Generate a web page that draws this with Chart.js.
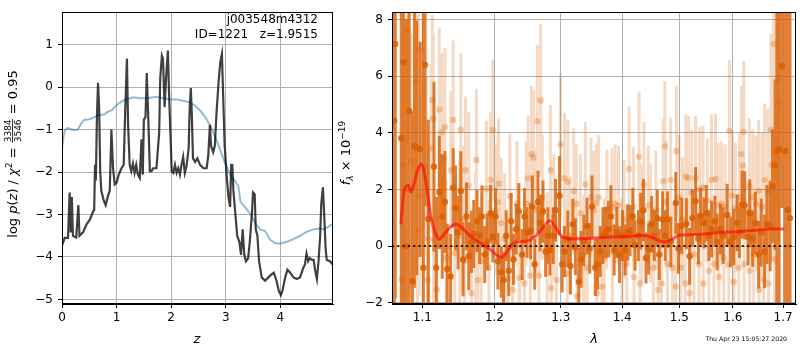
<!DOCTYPE html>
<html>
<head>
<meta charset="utf-8">
<script src="https://cdn.jsdelivr.net/npm/chart.js@4.4.1/dist/chart.umd.min.js"></script>
<style>
  body { margin: 0; background: #fff; }
  #wrap { position: relative; width: 800px; height: 350px; }
  canvas { position: absolute; top: 0; }
</style>
</head>
<body>
<div id="wrap">
  <canvas id="pz" width="340" height="350" style="left:0"></canvas>
  <canvas id="spec" width="470" height="350" style="left:330px"></canvas>
</div>
<script>
// ---- p(z) panel ----
const pzZ = [0, 0.05, 0.11, 0.14, 0.16, 0.18, 0.20, 0.26, 0.30, 0.32, 0.385, 0.45, 0.51, 0.57, 0.59, 0.605, 0.62, 0.64, 0.66, 0.68,
  0.70, 0.72, 0.765, 0.80, 0.845, 0.875, 0.905, 0.935, 0.966, 1.00, 1.04, 1.09, 1.13, 1.16, 1.19, 1.21, 1.24, 1.27, 1.30, 1.33,
  1.36, 1.39, 1.425, 1.456, 1.48, 1.50, 1.53, 1.553, 1.58, 1.61, 1.64, 1.67, 1.73, 1.78, 1.80, 1.83, 1.85, 1.88, 1.91, 1.94,
  1.96, 1.99, 2.01, 2.04, 2.07, 2.10, 2.13, 2.16, 2.19, 2.22, 2.25, 2.28, 2.32, 2.34, 2.36, 2.38, 2.40, 2.44, 2.48, 2.53,
  2.59, 2.65, 2.68, 2.71, 2.73, 2.77, 2.80, 2.83, 2.87, 2.90, 2.93, 2.95, 2.98, 3.02, 3.05, 3.08, 3.10, 3.12, 3.14, 3.17,
  3.21, 3.25, 3.28, 3.31, 3.34, 3.37, 3.41, 3.44, 3.48, 3.50, 3.53, 3.55, 3.58, 3.61, 3.66, 3.72, 3.78, 3.84, 3.88, 3.93,
  3.97, 4.01, 4.04, 4.09, 4.13, 4.18, 4.24, 4.30, 4.36, 4.42, 4.45, 4.48, 4.51, 4.54, 4.58, 4.61, 4.64, 4.67, 4.70, 4.73,
  4.75, 4.78, 4.80, 4.83, 4.85, 4.91, 4.96];
const pzLog = [-3.73, -3.55, -3.55, -2.48, -3.42, -2.59, -3.50, -3.54, -2.78, -3.50, -3.42, -3.23, -3.12, -2.93, -2.89, -1.83, -2.20, -0.70, 0.10, -0.47,
  -1.98, -2.44, -2.67, -2.78, -2.55, -2.44, -1.00, -1.91, -2.29, -2.25, -2.06, -1.91, -1.83, -0.47, 0.67, -0.85, -1.83, -1.98, -1.80, -2.02,
  -1.83, -2.06, -2.14, -1.23, -2.06, -0.77, -0.70, 0.33, -0.70, -1.98, -1.98, -1.91, -1.91, -1.08, 0.21, 0.74, 0.67, -0.47, 0.29, 0.86,
  -0.09, -1.23, -1.98, -2.02, -1.83, -2.02, -1.91, -2.06, -1.83, -1.64, -2.02, -1.87, -1.45, -0.47, -0.02, -0.70, -1.68, -1.76, -1.68, -1.83,
  -1.91, -1.91, -1.61, -0.89, -1.38, -1.53, -1.38, -0.62, 0.14, 0.59, 0.78, -0.09, -1.38, -2.14, -2.59, -2.82, -1.83, -1.83, -2.44, -2.89,
  -3.50, -3.65, -3.95, -3.35, -3.95, -4.10, -4.03, -3.65, -2.97, -2.48, -2.52, -3.35, -3.50, -4.10, -4.48, -4.56, -4.48, -4.41, -4.37, -4.56,
  -4.79, -4.90, -4.79, -4.48, -4.30, -4.37, -4.48, -4.52, -4.48, -4.26, -4.18, -3.92, -4.10, -4.03, -4.07, -4.07, -4.33, -4.52, -4.10, -3.50,
  -2.74, -2.36, -2.90, -3.80, -4.07, -4.10, -4.18];

const smoothZ = [0, 0.03, 0.06, 0.11, 0.17, 0.23, 0.29, 0.355, 0.415, 0.48, 0.54, 0.60, 0.69, 0.78, 0.84, 0.905, 0.966, 1.03, 1.12, 1.21,
  1.30, 1.425, 1.55, 1.67, 1.73, 1.85, 1.98, 2.10, 2.22, 2.34, 2.43, 2.53, 2.62, 2.71, 2.80, 2.89, 2.98, 3.08, 3.17, 3.23,
  3.27, 3.35, 3.44, 3.54, 3.63, 3.72, 3.81, 3.90, 3.99, 4.12, 4.24, 4.36, 4.48, 4.61, 4.70, 4.79, 4.88, 4.96];
const smoothLog = [-1.45, -1.15, -1.00, -0.96, -1.00, -1.01, -1.00, -0.85, -0.77, -0.76, -0.74, -0.70, -0.66, -0.64, -0.58, -0.55, -0.47, -0.39, -0.32, -0.28,
  -0.24, -0.26, -0.26, -0.24, -0.23, -0.26, -0.29, -0.29, -0.32, -0.36, -0.43, -0.55, -0.70, -0.89, -1.15, -1.45, -1.76, -2.06, -2.21, -2.33,
  -2.70, -2.82, -2.97, -3.20, -3.35, -3.39, -3.59, -3.67, -3.69, -3.64, -3.58, -3.50, -3.41, -3.35, -3.33, -3.35, -3.29, -3.22];

const zTicks = [0, 1, 2, 3, 4];
const logPTicks = [-5, -4, -3, -2, -1, 0, 1];

// ---- spectrum panel ----
const darkWave = [1.0633, 1.0646, 1.0723, 1.0752, 1.0787, 1.0826, 1.0869, 1.0895, 1.0926, 1.0970, 1.1013, 1.1036, 1.1079, 1.1155, 1.1186, 1.1227, 1.1267, 1.1303, 1.1335, 1.1381,
  1.1417, 1.1449, 1.1485, 1.1522, 1.1554, 1.1601, 1.1633, 1.1671, 1.1703, 1.1750, 1.1788, 1.1820, 1.1859, 1.1897, 1.1944, 1.1977, 1.2016, 1.2050, 1.2099, 1.2132,
  1.2171, 1.2209, 1.2244, 1.2278, 1.2318, 1.2357, 1.2407, 1.2442, 1.2482,
  1.2536, 1.2562, 1.2597, 1.2648, 1.2678, 1.2724, 1.2764, 1.2801, 1.2831, 1.2882, 1.2918, 1.2980, 1.3022, 1.3058, 1.3111, 1.3152, 1.3190, 1.3231, 1.3286, 1.3322,
  1.3366, 1.3419, 1.3462, 1.3499, 1.3553, 1.3592, 1.3634, 1.3678, 1.3728, 1.3772, 1.3810, 1.3865, 1.3910, 1.3955, 1.4006, 1.4049, 1.4095, 1.4134, 1.4180, 1.4219,
  1.4277, 1.4316, 1.4363, 1.4408, 1.4454, 1.4507, 1.4554, 1.4606, 1.4641, 1.4699,
  1.4747, 1.4787, 1.4846, 1.4935, 1.4984, 1.5043, 1.5128, 1.5188, 1.5238, 1.5298, 1.5348, 1.5390, 1.5453, 1.5496, 1.5546, 1.5594, 1.5658, 1.5701, 1.5764, 1.5815,
  1.5891, 1.5954, 1.6019, 1.6083, 1.6127, 1.6180, 1.6232, 1.6296, 1.6330, 1.6388, 1.6440, 1.6507, 1.6558, 1.6626, 1.6672, 1.6738, 1.6786, 1.6839, 1.6873, 1.6920,
  1.6975, 1.7042, 1.7097, 1.7144];
const darkFlux = [4.43, 7.14, 3.81, 6.49, 0.00, 4.77, -1.24, 3.53, 3.47, 3.42, -0.76, 6.40, 0.96, 2.80, -0.76, 1.90, 1.05, 1.56, -0.81, -1.07,
  2.06, 1.35, 0.48, 1.95, -0.47, 1.05, -0.36, 0.15, 0.43, 0.88, 0.37, 1.05, -0.30, 0.15, 1.16, 0.32, 1.05, -0.53, -0.92, -1.20,
  0.37, -0.87, 0.88, -0.47, 0.60, 1.22, -0.30, 1.05, 0.48,
  0.54, 1.39, -0.64, 1.56, 0.82, 1.22, -0.19, 0.37, -0.14, 0.37, 1.27, 1.78, -0.64, -0.19, 0.26, -0.70, 0.77, -0.02, -1.26, -0.47,
  0.20, 0.71, -0.08, 1.39, -0.76, -0.64, -0.19, 0.37, 0.48, 0.60, 1.05, -0.14, 0.48, -0.30, 0.37, -0.14, 0.48, 0.54, 1.05, 0.03,
  0.37, 0.88, 1.27, -0.42, -0.10, 0.77, 0.37, 0.99, -0.30, 0.94,
  0.37, 0.94, 0.15, 1.52, -0.08, 0.71, 0.79, -0.36, 0.99, 1.59, 0.26, 1.05, 0.82, 1.16, 0.37, 0.60, 0.88, 0.15, 0.60, 0.37,
  1.10, 0.15, 0.32, 0.82, 0.48, 1.47, 1.44, 0.32, 1.16, 0.26, 0.82, -0.30, 0.48, -0.19, 0.77, 0.71, 2.12, 2.85, 3.36, 3.42,
  6.35, 3.36, 1.27, 0.99];
const darkErr = [9, 9, 9, 9, 8, 9, 6, 5, 4.5, 3.8, 9, 5, 3.5, 3.0, 2.5, 2.0, 2.2, 1.8, 1.6, 1.5,
  1.4, 1.5, 1.3, 1.4, 1.3, 1.2, 1.2, 1.1, 1.2, 1.1, 1.0, 1.1, 1.0, 1.0, 1.0, 0.9, 1.0, 1.0, 0.9, 1.0,
  0.9, 0.9, 1.0, 0.9, 0.9, 1.0, 0.9, 1.0, 0.9,
  1.0, 1.1, 0.9, 1.1, 1.0, 1.1, 0.9, 1.0, 0.9, 1.0, 1.1, 1.4, 1.0, 0.9, 1.0, 1.0, 0.9, 1.0, 1.2, 1.0,
  0.9, 1.0, 0.9, 1.1, 1.0, 0.9, 0.9, 1.0, 0.9, 1.0, 1.1, 0.9, 0.9, 1.0, 0.9, 0.9, 1.0, 0.9, 1.0, 0.9,
  0.9, 1.0, 1.1, 0.9, 0.9, 1.0, 0.9, 1.0, 0.9, 1.0,
  0.9, 1.0, 0.9, 1.1, 0.9, 1.0, 0.9, 1.0, 1.0, 1.2, 0.9, 1.0, 0.9, 1.0, 0.9, 1.0, 0.9, 1.0, 0.9, 1.0,
  1.1, 0.9, 1.0, 1.0, 0.9, 1.2, 1.2, 1.0, 1.2, 1.0, 1.1, 1.2, 1.2, 1.3, 1.4, 1.6, 2.0, 3.0, 6, 9,
  5, 9, 9, 9];

const lightWave = [1.0730, 1.0752, 1.0806, 1.0848, 1.0913, 1.0934, 1.0952, 1.0960, 1.1049, 1.1066, 1.1079, 1.1119, 1.1132, 1.1145, 1.1150, 1.1192, 1.1227, 1.1259, 1.1281, 1.1303,
  1.1317, 1.1385, 1.1417, 1.1440, 1.1508, 1.1522, 1.1545, 1.1576, 1.1587, 1.1633, 1.1671, 1.1731, 1.1741, 1.1763, 1.1811, 1.1883, 1.1920, 1.1944, 1.1977, 1.2026,
  1.2050, 1.2060, 1.2099, 1.2148, 1.2194, 1.2226, 1.2266, 1.2330, 1.2362, 1.2372, 1.2442, 1.2467, 1.2497,
  1.2530, 1.2547, 1.2577, 1.2612, 1.2637, 1.2663, 1.2688, 1.2713, 1.2790, 1.2841, 1.2851, 1.2893, 1.2933, 1.2996, 1.3058, 1.3100, 1.3111, 1.3143, 1.3206, 1.3247,
  1.3258, 1.3311, 1.3366, 1.3391, 1.3419, 1.3483, 1.3527, 1.3569, 1.3580, 1.3608, 1.3662, 1.3700, 1.3744, 1.3827, 1.3835, 1.3882, 1.3938, 1.3995, 1.4032, 1.4078,
  1.4117, 1.4192, 1.4200, 1.4287, 1.4304, 1.4334, 1.4373, 1.4449, 1.4489, 1.4536, 1.4581, 1.4623, 1.4681, 1.4711, 1.4740,
  1.4757, 1.4787, 1.4846, 1.4876, 1.4935, 1.4948, 1.4996, 1.5025, 1.5056, 1.5105, 1.5116, 1.5165, 1.5188, 1.5225, 1.5269, 1.5298, 1.5360, 1.5372, 1.5434, 1.5440,
  1.5514, 1.5546, 1.5594, 1.5639, 1.5669, 1.5720, 1.5734, 1.5781, 1.5828, 1.5847, 1.5923, 1.5935, 1.5987, 1.6019, 1.6050, 1.6116, 1.6127, 1.6166, 1.6193, 1.6213,
  1.6220, 1.6322, 1.6330, 1.6388, 1.6408, 1.6453, 1.6507, 1.6515, 1.6572, 1.6606, 1.6626, 1.6692, 1.6706, 1.6755, 1.6772, 1.6807, 1.6827, 1.6873, 1.6907];
const lightFlux = [-1.18, 2.87, 7.59, 3.00, 5.80, 0.56, 6.93, 1.76, 2.82, -1.20, 0.26, 3.45, 5.16, 4.50, 0.20, -1.54, 4.82, 4.02, 3.08, 4.20,
  -0.42, 2.68, 4.46, -0.25, 0.37, 4.11, 0.94, -0.53, 2.68, 2.14, -1.66, 0.15, 3.04, -1.20, -0.53, 2.03, -0.76, 2.34, 4.09, 1.27,
  1.56, 2.20, 0.82, 0.26, -1.15, 1.76, -1.54, 1.50, 0.03, -1.12, -1.32, 1.50, 2.40,
  -1.04, 3.25, 3.13, 1.27, 4.41, -1.04, 5.14, 1.72, -0.30, 2.68, -1.49, 1.05, -1.20, 3.59, 2.40, -0.98, 2.27, 0.37, 1.95, 1.50,
  -1.77, 1.16, -0.30, 2.18, -0.76, 1.72, 1.27, 1.52, -1.66, 1.72, -1.43, -0.42, 1.30, 1.36, -0.19, 1.50, 1.44, -0.42, 0.94, -0.64,
  2.72, 1.39, -1.09, 3.16, -1.32, 0.82, 2.18, 1.44, 0.82, -0.76, 1.27, -1.54, -1.32, 2.29, 3.53,
  1.56, -0.64, 2.34, -0.76, -1.43, 3.36, 1.72, -0.76, 0.94, -1.32, 2.46, 2.40, -1.66, 1.89, -0.30, 2.40, -0.64, 2.00, 2.06, -1.32,
  1.61, -0.87, 2.34, -0.64, 2.37, 1.44, -1.09, 1.50, -0.42, 1.39, -0.64, 4.07, 1.78, -1.26, 1.36, -0.76, 1.72, 3.25, 2.85, 4.04,
  -0.64, 2.12, -0.87, 1.72, -0.30, 1.50, 1.95, -1.54, 1.39, -1.20, 2.34, 1.95, -1.32, 4.11, 2.87, 7.14, -0.47, 5.84, 5.11];
const lightErr = [5, 5, 4, 4.5, 3.5, 3.5, 3.5, 3.5, 3.2, 3.2, 3.2, 3.0, 3.0, 3.0, 3.0, 2.9, 2.9, 2.8, 2.8, 2.8,
  2.8, 2.8, 2.8, 2.7, 2.7, 2.7, 2.6, 2.6, 2.6, 2.6, 2.5, 2.5, 2.5, 2.4, 2.4, 2.4, 2.4, 2.4, 2.5, 2.3,
  2.3, 2.3, 2.3, 2.3, 2.2, 2.2, 2.2, 2.2, 2.2, 2.2, 2.2, 2.2, 2.2,
  2.2, 2.4, 2.4, 2.2, 2.7, 2.2, 2.7, 2.2, 2.2, 2.3, 2.2, 2.2, 2.2, 2.5, 2.3, 2.1, 2.2, 2.1, 2.2, 2.1,
  2.1, 2.1, 2.1, 2.2, 2.1, 2.1, 2.1, 2.1, 2.1, 2.2, 2.1, 2.1, 2.1, 2.1, 2.1, 2.1, 2.1, 2.1, 2.1, 2.1,
  2.2, 2.1, 2.1, 2.3, 2.1, 2.1, 2.2, 2.1, 2.1, 2.1, 2.1, 2.1, 2.1, 2.2, 2.3,
  2.2, 2.2, 2.2, 2.2, 2.2, 2.3, 2.2, 2.2, 2.2, 2.2, 2.2, 2.2, 2.2, 2.2, 2.2, 2.2, 2.2, 2.2, 2.2, 2.2,
  2.2, 2.2, 2.3, 2.2, 2.3, 2.2, 2.2, 2.2, 2.2, 2.2, 2.3, 2.5, 2.3, 2.3, 2.3, 2.3, 2.3, 2.4, 2.4, 2.5,
  2.3, 2.4, 2.4, 2.4, 2.4, 2.4, 2.5, 2.5, 2.6, 2.6, 2.7, 2.9, 2.9, 3.4, 3.4, 4.4, 3.9, 4.4, 5.0];

const modelWave = [1.0719, 1.0752, 1.0774, 1.0817, 1.0848, 1.0891, 1.0934, 1.0979, 1.1013, 1.1058, 1.1111, 1.1169, 1.1227, 1.1281, 1.1372, 1.1463, 1.1554, 1.1647, 1.1741, 1.1835,
  1.1930, 1.2026, 1.2099, 1.2171, 1.2244, 1.2318, 1.2416, 1.2516, 1.2592, 1.2668, 1.2744, 1.2821, 1.2871, 1.2949, 1.3027, 1.3131, 1.3290, 1.3504, 1.3723, 1.3944,
  1.4168, 1.4339, 1.4484, 1.4629, 1.4747, 1.4864, 1.4984, 1.5225, 1.5471, 1.5781, 1.6100, 1.6425, 1.6755, 1.7026];
const modelFlux = [0.77, 1.85, 2.08, 2.14, 1.91, 2.19, 2.65, 2.90, 2.76, 2.08, 1.06, 0.49, 0.24, 0.38, 0.66, 0.77, 0.60, 0.38, 0.20, 0.06,
  -0.10, -0.31, -0.40, -0.25, 0.03, 0.15, 0.17, 0.20, 0.32, 0.49, 0.72, 0.89, 0.83, 0.55, 0.32, 0.26, 0.26, 0.28, 0.31, 0.33,
  0.35, 0.38, 0.32, 0.20, 0.15, 0.24, 0.38, 0.40, 0.43, 0.49, 0.51, 0.56, 0.60, 0.60];

const waveTicks = [1.1, 1.2, 1.3, 1.4, 1.5, 1.6, 1.7];
const fluxTicks = [-2, 0, 2, 4, 6, 8];

const FONT = "'DejaVu Sans', sans-serif";
Chart.defaults.font.family = FONT;
Chart.defaults.font.size = 12;
Chart.defaults.color = '#000';

const minus = v => String(v).replace('-', '\u2212');

// full box around the plot area (Chart.js only draws the axis side)
const frame = {
  id: 'frame',
  afterDraw(chart) {
    const { ctx, chartArea: a } = chart;
    ctx.save();
    ctx.strokeStyle = '#000';
    ctx.lineWidth = 1;
    ctx.strokeRect(Math.round(a.left) + 0.5, Math.round(a.top) + 0.5,
      Math.round(a.right - a.left) - 1, Math.round(a.bottom - a.top) - 1);
    ctx.restore();
  }
};

// draw a label built from pieces (normal / italic / sub / superscript / fraction)
function pieceFont(p) {
  return `${p.italic ? 'italic ' : ''}${p.size || 13}px ${FONT}`;
}
function pieceWidth(ctx, p) {
  ctx.font = pieceFont(p);
  if (p.frac) return Math.max(ctx.measureText(p.frac[0]).width, ctx.measureText(p.frac[1]).width) + 2;
  return ctx.measureText(p.text).width;
}
function drawPieces(ctx, pieces, cx, baseline) {
  const widths = pieces.map(p => pieceWidth(ctx, p));
  let x = cx - widths.reduce((a, b) => a + b, 0) / 2;
  ctx.textBaseline = 'alphabetic';
  pieces.forEach((p, i) => {
    ctx.font = pieceFont(p);
    if (p.frac) {
      const mid = x + widths[i] / 2;
      const bar = baseline - 4.5;
      ctx.textAlign = 'center';
      ctx.fillText(p.frac[0], mid, bar - 1.5);
      ctx.fillText(p.frac[1], mid, bar + 8);
      ctx.fillRect(x + 0.5, bar - 0.5, widths[i] - 1, 0.8);
    } else {
      ctx.textAlign = 'left';
      ctx.fillText(p.text, x, baseline + (p.dy || 0));
    }
    x += widths[i];
  });
}

const pzText = {
  id: 'pzText',
  afterDraw(chart) {
    const ctx = chart.ctx;
    ctx.save();
    ctx.fillStyle = '#000';
    ctx.font = `12px ${FONT}`;
    ctx.textAlign = 'right';
    ctx.textBaseline = 'middle';
    ctx.fillText('j003548m4312', 318, 20);
    ctx.fillText('ID=1221   z=1.9515', 318, 34.5);
    ctx.textAlign = 'center';
    ctx.font = `italic 13px ${FONT}`;
    ctx.fillText('z', 197, 340);
    ctx.translate(12, 154);
    ctx.rotate(-Math.PI / 2);
    drawPieces(ctx, [
      { text: 'log ' }, { text: 'p', italic: true }, { text: '(' }, { text: 'z', italic: true }, { text: ')' },
      { text: ' / ' }, { text: '\u03c7', italic: true }, { text: '2', size: 9, dy: -5.5 },
      { text: ' = ' }, { frac: ['3384', '3546'], size: 9 }, { text: ' = 0.95' }
    ], 0, 5);
    ctx.restore();
  }
};

const specText = {
  id: 'specText',
  afterDraw(chart) {
    const ctx = chart.ctx;
    ctx.save();
    ctx.fillStyle = '#000';
    ctx.textAlign = 'center';
    ctx.textBaseline = 'middle';
    ctx.font = `italic 13px ${FONT}`;
    ctx.fillText('\u03bb', 264, 340);
    ctx.font = `6.2px ${FONT}`;
    ctx.textAlign = 'right';
    ctx.fillText('Thu Apr 23 15:05:27 2020', 457, 339.5);
    ctx.translate(15, 153);
    ctx.rotate(-Math.PI / 2);
    drawPieces(ctx, [
      { text: 'f', italic: true }, { text: '\u03bb', italic: true, size: 9, dy: 2.5 },
      { text: ' \u00d7 10' }, { text: '\u221219', size: 9, dy: -5.5 }
    ], 0, 5);
    ctx.restore();
  }
};

const gridOpts = { color: '#b0b0b0', lineWidth: 1, tickColor: '#000', tickLength: 4, tickWidth: 1 };
const borderOpts = { display: true, color: '#000', width: 1 };

new Chart(document.getElementById('pz'), {
  type: 'scatter',
  data: {
    datasets: [
      {
        data: pzZ.map((z, i) => ({ x: z, y: pzLog[i] })),
        showLine: true, borderColor: 'rgba(0,0,0,0.75)', borderWidth: 2.2,
        pointRadius: 0, order: 1
      },
      {
        data: smoothZ.map((z, i) => ({ x: z, y: smoothLog[i] })),
        showLine: true, borderColor: 'rgba(31,119,180,0.5)', borderWidth: 2,
        pointRadius: 0, order: 2
      }
    ]
  },
  options: {
    responsive: false,
    animation: false,
    events: [],
    layout: { padding: { left: 0, right: 7, top: 2, bottom: 0 } },
    plugins: { legend: { display: false }, tooltip: { enabled: false } },
    scales: {
      x: {
        type: 'linear', min: 0, max: 4.965,
        afterBuildTicks: s => { s.ticks = zTicks.map(v => ({ value: v })); },
        afterFit: s => { s.height = 46; },
        ticks: { callback: v => minus(v), padding: 3, maxRotation: 0, autoSkip: false },
        grid: gridOpts, border: borderOpts
      },
      y: {
        type: 'linear', min: -5.107, max: 1.764,
        afterBuildTicks: s => { s.ticks = logPTicks.map(v => ({ value: v })); },
        afterFit: s => { s.width = 62; },
        ticks: { callback: v => minus(v), padding: 5, autoSkip: false },
        grid: gridOpts, border: borderOpts
      }
    }
  },
  plugins: [frame, pzText]
});

// error bars as short vertical segments separated by gaps
function errorSegments(wave, flux, err) {
  const pts = [];
  wave.forEach((w, i) => {
    pts.push({ x: w, y: flux[i] - err[i] }, { x: w, y: flux[i] + err[i] }, { x: w, y: null });
  });
  return pts;
}

const ORANGE = '217,95,2';

new Chart(document.getElementById('spec'), {
  type: 'scatter',
  data: {
    datasets: [
      {
        data: [{ x: 1.0604, y: 0 }, { x: 1.7268, y: 0 }],
        showLine: true, borderColor: 'rgba(0,0,0,0.85)', borderWidth: 2, borderDash: [2, 3.3],
        pointRadius: 0, order: 1
      },
      {
        data: modelWave.map((w, i) => ({ x: w, y: modelFlux[i] })),
        showLine: true, borderColor: 'rgba(255,0,0,0.6)', borderWidth: 3, tension: 0.3,
        pointRadius: 0, order: 2
      },
      {
        data: darkWave.map((w, i) => ({ x: w, y: darkFlux[i] })),
        pointRadius: 3.2, pointBorderWidth: 0, pointBackgroundColor: `rgba(${ORANGE},0.85)`, order: 3
      },
      {
        data: errorSegments(darkWave, darkFlux, darkErr),
        showLine: true, spanGaps: false, borderColor: `rgba(${ORANGE},0.8)`, borderWidth: 3,
        pointRadius: 0, order: 4
      },
      {
        data: lightWave.map((w, i) => ({ x: w, y: lightFlux[i] })),
        pointRadius: 3.2, pointBorderWidth: 0, pointBackgroundColor: `rgba(${ORANGE},0.3)`, order: 5
      },
      {
        data: errorSegments(lightWave, lightFlux, lightErr),
        showLine: true, spanGaps: false, borderColor: `rgba(${ORANGE},0.24)`, borderWidth: 3,
        pointRadius: 0, order: 6
      }
    ]
  },
  options: {
    responsive: false,
    animation: false,
    events: [],
    layout: { padding: { left: 0, right: 2, top: 2, bottom: 0 } },
    plugins: { legend: { display: false }, tooltip: { enabled: false } },
    scales: {
      x: {
        type: 'logarithmic', min: 1.0604, max: 1.7268,
        afterBuildTicks: s => { s.ticks = waveTicks.map(v => ({ value: v })); },
        afterFit: s => { s.height = 46; },
        ticks: { callback: v => Number(v).toFixed(1), padding: 3, maxRotation: 0, autoSkip: false },
        grid: gridOpts, border: borderOpts
      },
      y: {
        type: 'linear', min: -2.044, max: 8.26,
        afterBuildTicks: s => { s.ticks = fluxTicks.map(v => ({ value: v })); },
        afterFit: s => { s.width = 62; },
        ticks: { callback: v => minus(v), padding: 5, autoSkip: false },
        grid: gridOpts, border: borderOpts
      }
    }
  },
  plugins: [frame, specText]
});
</script>
</body>
</html>
